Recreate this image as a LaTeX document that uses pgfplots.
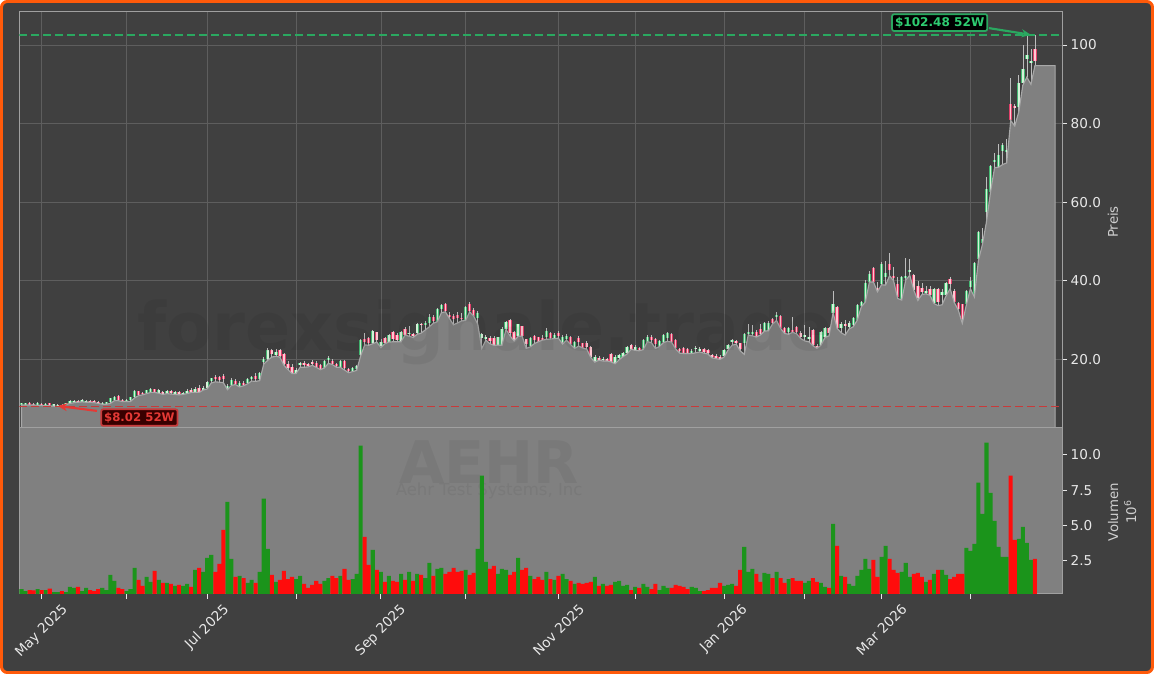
\documentclass[border=0pt]{standalone}
\usepackage{fontspec}
\setmainfont{DejaVu Sans}
\usepackage{graphicx}
\usepackage{pgfplots}
\usepackage{pgfplotstable}
\pgfplotsset{compat=1.18}
\usetikzlibrary{arrows.meta}
\definecolor{bgc}{HTML}{404040}
\definecolor{fillc}{HTML}{808080}
\definecolor{edgec}{HTML}{A8A8A8}
\definecolor{framec}{HTML}{FF5A0A}
\definecolor{volg}{HTML}{1B941B}
\definecolor{volr}{HTML}{FF0C0C}
\definecolor{upo}{HTML}{45B873}
\definecolor{upi}{HTML}{D5F2D8}
\definecolor{dno}{HTML}{E0406A}
\definecolor{dni}{HTML}{FFC8D2}
\definecolor{wickc}{HTML}{BDBDBD}
\definecolor{tickc}{HTML}{E8E8E8}
\definecolor{labc}{HTML}{CFCFCF}
\definecolor{spinec}{HTML}{A0A0A0}
\definecolor{gridc}{HTML}{5E5E5E}
\definecolor{hic}{HTML}{2ECC71}
\definecolor{hid}{HTML}{2AA860}
\definecolor{loc}{HTML}{E53935}
\definecolor{lod}{HTML}{C83A3A}
\pgfplotstableread{
i lo b t hi v d
0 8.4 8.55 8.85 9.0 .51 1
1 8.4 8.55 8.8 9.0 .37 1
2 8.4 8.5 8.85 9.1 .44 0
3 8.4 8.5 8.75 8.9 .42 0
4 8.35 8.5 8.8 9.1 .51 1
5 8.3 8.45 8.7 8.9 .44 0
6 8.2 8.4 8.75 8.9 .44 1
7 8.2 8.4 8.8 9.0 .54 0
8 8.1 8.3 8.6 8.75 .30 1
9 8.02 8.2 8.4 8.55 .30 1
10 8.1 8.3 8.5 8.6 .37 0
11 8.5 8.6 8.9 9.0 .30 1
12 8.8 9.0 9.4 9.7 .66 1
13 9.0 9.15 9.45 9.7 .59 1
14 9.1 9.25 9.5 9.8 .66 0
15 9.2 9.35 9.55 9.9 .37 1
16 9.1 9.3 9.5 9.7 .59 1
17 9.1 9.25 9.5 9.65 .44 0
18 9.0 9.15 9.4 9.6 .37 0
19 8.8 8.95 9.2 9.4 .51 0
20 8.6 8.75 8.95 9.1 .59 1
21 8.6 8.8 9.05 9.2 .44 1
22 8.8 9.04 10.06 10.2 1.51 1
23 9.5 9.8 10.48 10.6 1.08 1
24 9.5 9.8 10.65 10.85 .59 0
25 9.3 9.5 9.75 9.9 .51 0
26 9.3 9.45 9.7 9.85 .37 1
27 9.3 9.63 10.31 10.4 .51 1
28 10.2 10.48 11.92 12.1 2.00 1
29 10.8 11.07 11.92 12.05 1.15 0
30 11.0 11.16 11.5 11.6 .73 0
31 11.3 11.58 12.18 12.3 1.37 1
32 11.6 11.75 12.35 12.6 1.01 1
33 11.6 11.67 12.35 12.5 1.79 0
34 11.4 11.58 12.18 12.35 1.15 1
35 11.1 11.33 11.75 11.85 .94 0
36 11.3 11.58 12.0 12.3 .94 1
37 11.2 11.33 12.0 12.2 .87 0
38 11.1 11.33 11.75 11.9 .73 1
39 11.0 11.16 11.75 11.95 .80 0
40 11.1 11.16 11.5 11.65 .73 1
41 11.3 11.58 12.0 12.5 .87 1
42 11.6 11.67 12.18 12.8 .66 0
43 11.6 11.75 12.43 12.9 1.86 1
44 11.6 11.75 12.6 13.45 2.00 0
45 12.2 12.35 12.77 13.3 1.72 1
46 12.5 12.6 14.2 14.5 2.71 1
47 14.0 14.47 15.15 15.3 2.93 1
48 14.3 14.89 15.4 16.0 1.72 0
49 14.2 14.72 15.57 15.7 2.29 0
50 14.1 14.89 15.74 16.4 4.70 0
51 12.3 12.35 13.3 13.7 6.68 1
52 13.4 13.45 14.72 15.3 2.64 1
53 13.6 13.87 14.55 15.0 1.37 0
54 13.0 13.2 14.04 14.4 1.44 1
55 13.3 13.5 14.1 14.4 1.29 0
56 13.8 14.04 14.89 15.2 .94 1
57 14.5 14.98 15.57 15.8 1.15 1
58 14.4 15.06 15.74 16.5 .94 0
59 14.6 14.98 16.67 16.8 1.72 1
60 18.8 19.39 20.23 20.6 6.90 1
61 19.8 19.98 22.36 23.03 3.35 1
62 20.6 21.34 22.36 22.7 1.51 0
63 20.8 21.08 21.93 22.6 1.01 1
64 20.6 20.83 22.36 22.6 1.15 0
65 18.5 18.96 21.34 21.6 1.79 0
66 17.4 17.69 18.96 19.6 1.22 0
67 16.4 16.67 18.11 18.8 1.37 0
68 16.4 16.5 17.27 17.8 1.22 1
69 18.0 18.6 19.0 19.3 1.44 1
70 18.0 18.7 19.1 19.5 .87 0
71 18.1 18.2 18.8 19.0 .59 0
72 18.5 18.9 19.4 19.9 .80 0
73 18.0 18.15 19.17 19.5 1.08 0
74 17.4 17.55 18.57 18.8 .87 0
75 17.8 17.89 19.59 19.9 1.08 1
76 19.0 19.9 20.3 20.86 1.29 1
77 18.7 18.83 19.59 20.0 1.44 0
78 18.0 18.4 18.8 19.2 1.29 0
79 18.0 18.15 19.59 19.8 1.44 1
80 17.3 17.72 19.59 19.8 1.93 0
81 16.62 17.1 17.5 17.8 1.15 0
82 16.9 17.13 17.89 18.1 1.22 1
83 17.2 17.47 18.32 18.7 1.58 1
84 20.9 21.12 24.93 25.2 10.66 1
85 23.7 24.5 25.2 26.63 4.20 0
86 23.6 24.08 25.36 25.7 2.22 0
87 24.0 24.08 27.31 27.6 3.28 1
88 24.4 24.93 26.88 27.1 1.86 0
89 23.0 23.4 24.5 25.2 1.72 1
90 24.0 24.25 25.36 25.7 1.01 0
91 24.4 24.51 26.2 26.5 1.44 1
92 24.5 25.1 27.05 27.3 1.08 0
93 24.5 24.93 26.2 26.6 1.01 0
94 24.5 24.51 27.05 27.3 1.58 1
95 26.2 26.2 27.65 28.3 1.15 0
96 25.9 26.4 26.8 28.58 1.72 1
97 25.6 25.9 26.4 26.8 1.08 0
98 26.4 26.8 28.92 29.2 1.58 1
99 26.7 28.7 29.1 29.3 1.51 0
100 27.5 28.9 29.3 29.9 1.29 1
101 28.3 29.34 30.7 31.6 2.36 1
102 29.2 29.85 30.87 31.3 1.44 0
103 29.6 29.6 32.74 33.0 1.93 1
104 31.9 32.74 33.84 34.2 2.00 1
105 32.1 32.31 34.0 34.3 1.58 0
106 30.4 30.7 31.3 32.0 1.72 0
107 28.8 30.19 31.04 31.6 2.00 0
108 29.3 30.45 31.3 32.1 1.72 0
109 29.8 30.3 30.6 31.8 1.79 0
110 29.9 30.02 33.41 33.6 1.86 1
111 32.1 32.4 34.09 34.6 1.51 0
112 31.0 31.04 32.57 33.2 1.65 0
113 29.0 30.45 31.72 32.4 3.35 1
114 22.8 25.53 26.37 26.6 8.53 1
115 24.9 25.2 25.7 26.1 2.43 1
116 24.0 24.6 25.5 26.0 1.93 0
117 23.6 23.66 25.36 26.0 2.15 0
118 23.6 23.7 25.6 25.8 1.58 1
119 23.6 23.66 27.73 28.3 1.93 1
120 27.6 27.65 29.6 29.8 1.86 1
121 26.0 26.63 30.02 30.2 1.51 0
122 24.7 24.93 27.05 27.3 1.72 0
123 25.9 25.95 28.92 29.1 2.71 1
124 25.9 25.95 28.4 28.6 1.86 0
125 22.8 23.83 25.1 25.3 2.00 0
126 23.2 23.41 25.36 25.6 1.44 1
127 24.0 24.93 25.95 26.3 1.22 0
128 24.5 24.51 25.61 25.8 1.37 0
129 24.9 25.1 25.5 26.2 1.15 0
130 25.1 25.61 27.22 28.0 1.72 1
131 25.2 25.36 26.63 26.9 1.22 0
132 25.3 25.53 26.2 26.6 1.15 1
133 25.4 25.95 26.8 27.3 1.44 0
134 23.9 24.5 25.6 26.2 1.58 1
135 24.9 25.1 25.95 26.4 1.22 1
136 23.8 23.91 25.61 25.9 1.08 0
137 22.8 23.0 24.51 24.7 .87 1
138 23.4 24.5 25.36 26.0 .94 0
139 22.9 23.0 24.08 24.3 .87 0
140 22.6 23.09 24.08 24.6 .94 0
141 20.5 20.7 23.09 23.3 1.01 0
142 19.3 19.42 20.7 21.0 1.37 1
143 19.8 19.99 20.3 20.8 .73 0
144 19.6 19.9 20.2 20.7 .87 1
145 19.6 19.8 20.1 20.4 .73 0
146 19.4 19.42 21.38 21.6 .80 0
147 18.9 19.0 20.7 21.0 1.01 1
148 19.9 20.27 21.1 21.3 1.08 1
149 20.7 20.7 21.7 22.0 .73 1
150 21.4 21.7 23.07 23.3 .80 1
151 22.6 22.65 23.67 23.9 .44 0
152 22.3 22.4 23.2 23.6 .66 1
153 22.2 22.4 22.8 23.1 .59 0
154 22.5 22.56 24.94 25.1 .87 1
155 24.5 24.51 25.79 26.2 .66 1
156 24.3 24.94 25.79 26.1 .51 0
157 22.8 23.9 25.2 25.5 .87 0
158 23.3 23.4 24.7 25.0 .44 1
159 24.3 24.5 26.21 26.5 .73 1
160 24.6 25.36 26.63 27.0 .59 1
161 24.4 24.51 26.46 26.7 .59 0
162 22.7 22.82 24.94 25.1 .80 0
163 21.6 22.2 22.6 22.9 .73 0
164 21.5 21.54 22.82 23.1 .66 0
165 21.5 21.54 22.65 23.0 .51 0
166 21.5 21.8 22.2 22.6 .66 1
167 21.7 22.6 23.0 23.4 .59 1
168 21.9 22.2 22.7 23.1 .37 1
169 21.6 22.0 22.6 22.9 .37 0
170 21.4 21.54 22.39 22.6 .44 0
171 20.4 20.7 21.12 21.5 .59 0
172 20.2 20.4 20.85 21.3 .59 0
173 20.0 20.1 20.6 21.0 .94 0
174 20.6 20.95 22.39 22.6 .73 1
175 22.4 22.56 23.67 23.9 .80 1
176 23.6 24.5 24.9 25.3 .87 1
177 23.9 24.2 24.6 25.0 .73 0
178 22.2 22.65 24.09 24.3 1.86 0
179 21.3 24.09 26.46 26.7 3.49 1
180 26.2 26.5 26.9 28.9 1.72 1
181 26.0 26.6 27.0 28.75 1.93 1
182 25.7 25.79 27.06 27.4 1.58 0
183 26.2 26.38 27.65 28.9 1.01 0
184 27.2 27.31 29.18 29.4 1.65 1
185 27.3 27.31 29.35 29.7 1.58 1
186 29.0 29.35 30.28 30.6 1.29 0
187 29.9 30.7 31.2 32.15 1.72 1
188 27.9 28.08 31.05 31.3 1.29 0
189 26.6 26.63 28.08 28.3 .94 0
190 26.4 27.06 28.08 28.3 1.22 1
191 26.9 27.0 27.4 30.87 1.29 0
192 26.5 27.06 28.33 28.6 1.08 0
193 25.3 25.79 26.8 27.2 1.08 0
194 24.7 25.8 26.2 28.75 .94 1
195 24.5 25.1 25.6 28.3 1.08 1
196 23.5 23.67 27.48 27.7 1.29 0
197 22.8 22.9 23.5 24.0 1.01 0
198 23.6 23.67 27.06 27.3 .94 1
199 25.6 25.79 27.91 28.3 .66 1
200 26.0 26.63 27.91 28.3 .59 0
201 31.9 31.9 34.1 37.5 5.12 1
202 27.9 27.91 33.25 33.6 3.56 0
203 26.8 27.91 29.0 29.5 1.44 1
204 26.2 28.6 29.0 30.03 1.37 0
205 27.8 28.33 29.35 29.7 .87 1
206 28.3 28.75 30.45 30.8 .73 1
207 30.0 30.03 33.84 34.1 1.44 1
208 33.4 33.6 34.5 34.8 1.86 1
209 34.6 34.69 39.36 40.21 2.64 1
210 39.7 39.78 41.65 42.5 1.93 1
211 39.7 39.78 43.17 43.4 2.57 0
212 37.2 37.41 38.26 39.78 1.37 0
213 39.0 39.1 44.28 44.7 2.78 1
214 38.9 41.05 41.9 45.13 3.56 1
215 41.3 42.75 44.28 47.16 2.64 0
216 40.0 40.63 41.31 43.43 1.86 0
217 35.5 35.8 39.1 40.88 1.65 0
218 35.1 35.12 41.05 41.3 1.72 1
219 40.2 40.8 41.3 45.89 2.36 1
220 41.4 42.2 42.7 45.55 1.37 1
221 37.6 37.66 41.48 41.7 1.58 0
222 35.0 35.54 38.68 40.0 1.65 0
223 36.5 37.2 38.1 39.53 1.37 0
224 36.7 36.81 37.41 38.77 1.01 1
225 36.3 36.39 37.83 38.68 1.15 0
226 34.2 34.27 37.83 38.1 1.58 1
227 33.7 34.69 37.83 38.1 1.86 0
228 33.9 36.39 37.24 37.83 1.86 1
229 36.2 36.39 39.36 39.6 1.51 1
230 38.0 39.19 40.38 40.88 1.22 0
231 34.5 34.69 37.41 37.83 1.37 0
232 32.6 32.74 34.44 34.7 1.58 0
233 29.2 30.2 34.0 34.2 1.58 0
234 33.8 33.98 37.41 37.6 3.42 1
235 38.0 38.34 39.95 41.05 3.21 1
236 35.9 35.97 44.45 44.7 3.71 1
237 45.2 45.46 52.5 52.8 8.03 1
238 49.3 49.54 50.55 53.35 5.83 1
239 55.05 57.42 63.28 66.5 10.87 1
240 62.6 62.68 69.2 69.5 7.32 1
241 68.8 70.3 70.8 72.6 5.34 1
242 68.9 69.0 72.0 74.8 3.49 1
243 69.6 73.1 74.6 75.15 2.78 1
244 70.0 72.9 73.4 76.0 2.78 1
245 80.8 80.9 85.0 91.5 8.53 0
246 79.4 83.9 84.6 85.1 3.99 0
247 83.0 84.3 90.25 92.4 4.06 1
248 89.8 90.25 93.8 100.0 4.91 1
249 91.8 96.4 97.45 102.4 3.78 1
250 90.0 95.3 95.9 99.0 2.57 1
251 94.75 95.9 98.9 102.48 2.64 0
252 94.75 94.75 94.75 94.75 0 2
253 94.75 94.75 94.75 94.75 0 2
254 94.75 94.75 94.75 94.75 0 2
255 94.75 94.75 94.75 94.75 0 2
256 94.75 94.75 94.75 94.75 0 2
}\ohlc
% wick and body of the candles of one direction: #1 = direction, #2 = outer colour, #3 = inner colour
\newcommand\candles[3]{%
  \addplot[draw=none,mark=none,forget plot,restrict expr to domain={\thisrow{d}}{#1:#1},
    error bars/.cd,y dir=both,y explicit,error mark=none,
    error bar style={line width=.5pt,color=wickc}]
    table[x=i,y expr=(\thisrow{lo}+\thisrow{hi})/2,y error expr=(\thisrow{hi}-\thisrow{lo})/2]{\ohlc};
  \addplot[draw=none,mark=none,forget plot,restrict expr to domain={\thisrow{d}}{#1:#1},
    error bars/.cd,y dir=both,y explicit,error mark=none,
    error bar style={line width=2.5pt,color=#2}]
    table[x=i,y expr=(\thisrow{b}+\thisrow{t})/2,y error expr=(\thisrow{t}-\thisrow{b})/2]{\ohlc};
  \addplot[draw=none,mark=none,forget plot,restrict expr to domain={\thisrow{d}}{#1:#1},
    error bars/.cd,y dir=both,y explicit,error mark=none,
    error bar style={line width=1.1pt,color=#3}]
    table[x=i,y expr=(\thisrow{b}+\thisrow{t})/2,y error expr=(\thisrow{t}-\thisrow{b})/2]{\ohlc};
}
\begin{document}
\begin{tikzpicture}[x=1pt,y=1pt]
\path[use as bounding box] (0,0) rectangle (865.5,505.5);
\fill[white] (0,0) rectangle (865.5,505.5);
\draw[framec,line width=2.25pt,fill=bgc,rounded corners=4.5pt] (1.1,1.1) rectangle (864.4,504.4);
\pgfplotsset{every axis/.append style={
  scale only axis,
  width=781.9pt,
  xmin=-0.5,xmax=257.7,
  axis line style={spinec,line width=.75pt},
  tick style={tickc,line width=.75pt},
  major tick length=3.75pt,
  tick align=outside,
  xtick={5,26,46,68,89,110,133,152,174,194,213,235},
  yticklabel pos=right,
  ytick pos=right,
  xtick pos=bottom,
  tick label style={text=tickc,font=\fontsize{10.2}{12}\selectfont},
  yticklabel style={anchor=west,inner sep=0pt,xshift=2.6pt},
}}
% ---------- price panel
\begin{axis}[
  at={(14.6pt,184.5pt)},anchor=south west,
  height=312pt,
  ymin=2.55,ymax=108.4,
  ytick={20,40,60,80,100},
  yticklabels={20.0,40.0,60.0,80.0,100},
  xticklabels={},
  xtick style={draw=none},
  grid=major,
  grid style={gridc,line width=.5pt},
  ylabel={Preis},
  every axis y label/.style={at={(axis description cs:1.0489,0.495)},rotate=90,anchor=center,text=labc,font=\fontsize{10}{12}\selectfont},
]
\candles{1}{upo}{upi}
\candles{0}{dno}{dni}
\addplot[fill=fillc,draw=edgec,line width=.85pt,forget plot] table[x=i,y=lo]{\ohlc} \closedcycle;
\addplot[forget plot,draw=hid,dash pattern=on 6pt off 3pt,line width=1.15pt] coordinates {(-0.5,102.48)(257.7,102.48)};
\addplot[forget plot,draw=lod,dash pattern=on 6pt off 3pt,line width=1.15pt] coordinates {(-0.5,8.02)(257.7,8.02)};
\node[text=black,text opacity=.055,font=\bfseries\fontsize{50}{50}\selectfont] at (axis cs:114.8,27) {forexsignale.trade};
\draw[-{Stealth[length=7pt,width=6pt]},hid,line width=1.6pt] (axis cs:239.6,104.3) -- (axis cs:250,102.6);
\draw[-{Stealth[length=7pt,width=6pt]},loc,line width=1.6pt] (axis cs:18.7,6.9) -- (axis cs:9,8.15);
\node[fill=black,draw=hid,line width=1.3pt,rounded corners=1.5pt,text=hic,inner sep=2.2pt,font=\bfseries\fontsize{9.05}{10}\selectfont] at (axis cs:227.4,105.7) {\$102.48 52W};
\node[fill=black!78!red,draw=lod,line width=1.3pt,rounded corners=1.5pt,text=loc,inner sep=2.2pt,font=\bfseries\fontsize{8.8}{10}\selectfont] at (axis cs:29.2,5.2) {\$8.02 52W};
\end{axis}
% ---------- volume panel
\begin{axis}[
  at={(14.6pt,60pt)},anchor=south west,
  height=124.5pt,
  ymin=0.16,ymax=11.9,
  ytick={2.5,5,7.5,10},
  yticklabels={2.5,5.0,7.5,10.0},
  axis background/.style={fill=fillc},
  xticklabels={\rotatebox{45}{May 2025},,\rotatebox{45}{Jul 2025},,\rotatebox{45}{Sep 2025},,\rotatebox{45}{Nov 2025},,\rotatebox{45}{Jan 2026},,\rotatebox{45}{Mar 2026},},
  xticklabel style={anchor=north,inner sep=0pt,yshift=-3pt},
  ylabel={Volumen\\[1.5pt]10\textsuperscript{6}},
  every axis y label/.style={at={(axis description cs:1.0576,0.494)},rotate=90,anchor=center,align=center,text=labc,font=\fontsize{10}{12}\selectfont},
]
\node[text=black,text opacity=.05,font=\bfseries\fontsize{44}{44}\selectfont] at (rel axis cs:0.4505,0.795) {AEHR};
\node[text=black,text opacity=.05,font=\fontsize{12.4}{13}\selectfont] at (rel axis cs:0.4505,0.62) {Aehr Test Systems, Inc};
\addplot[ybar,bar width=1,bar shift=0pt,fill=volg,draw=none,forget plot,restrict expr to domain={\thisrow{d}}{1:1}] table[x=i,y=v]{\ohlc};
\addplot[ybar,bar width=1,bar shift=0pt,fill=volr,draw=none,forget plot,restrict expr to domain={\thisrow{d}}{0:0}] table[x=i,y=v]{\ohlc};
\end{axis}
\end{tikzpicture}
\end{document}
